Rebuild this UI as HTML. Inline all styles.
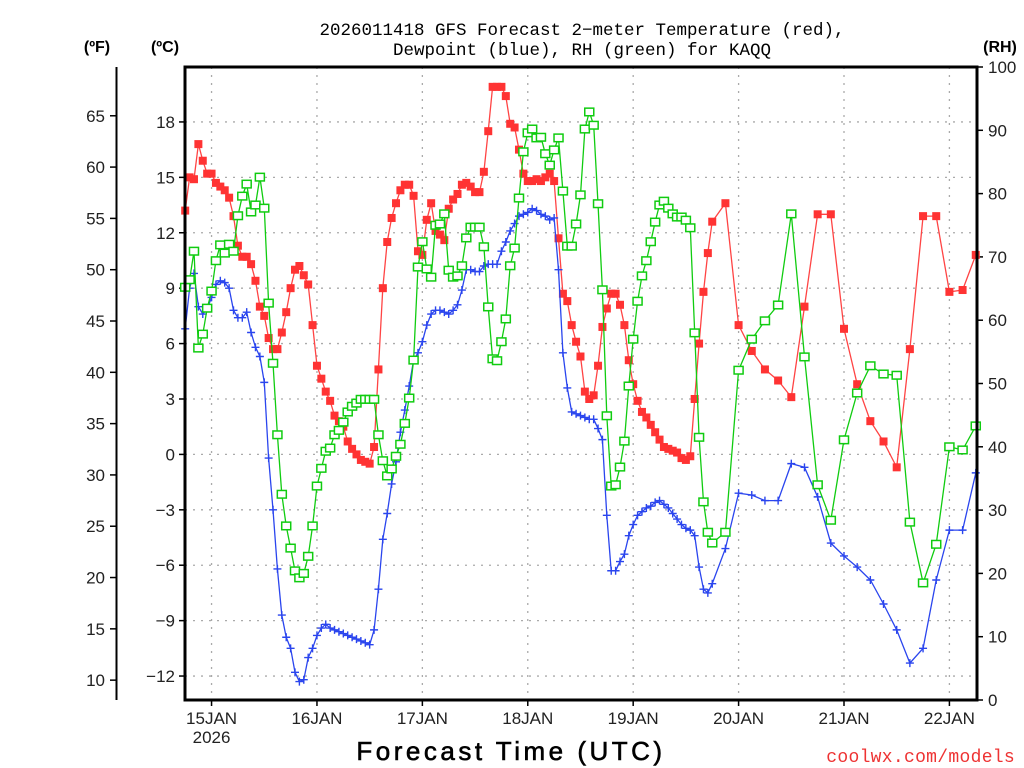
<!DOCTYPE html>
<html><head><meta charset="utf-8"><style>
html,body{margin:0;padding:0;background:#fff;}
svg{display:block;font-family:"Liberation Sans",sans-serif;}
</style></head><body>
<svg id="chart" width="1024" height="768" viewBox="0 0 1024 768" xmlns="http://www.w3.org/2000/svg">
<g font-size="17.5" fill="#000" text-anchor="middle" font-family="Liberation Mono, monospace">
<text x="582" y="35">2026011418 GFS Forecast 2−meter Temperature (red),</text>
<text x="582" y="55">Dewpoint (blue), RH (green) for KAQQ</text>
</g>
<text x="97" y="52" font-size="16" font-weight="bold" text-anchor="middle">(ºF)</text>
<text x="165" y="52" font-size="16" font-weight="bold" text-anchor="middle">(ºC)</text>
<text x="1000" y="52" font-size="16" font-weight="bold" text-anchor="middle">(RH)</text>
<g id="grid"></g>
<g id="axes"></g>
<g id="series"></g>
<rect x="185" y="67" width="792" height="633" fill="none" stroke="#000" stroke-width="3"/>
<text x="511" y="760" font-size="26" text-anchor="middle" letter-spacing="3.5" stroke="#000" stroke-width="0.6">Forecast Time (UTC)</text>
<text x="1015" y="762" font-size="18" fill="#e33" text-anchor="end" font-family="Liberation Mono, monospace" letter-spacing="0.3">coolwx.com/models</text>
</svg>
<script>
const hours = [0,1,2,3,4,5,6,7,8,9,10,11,12,13,14,15,16,17,18,19,20,21,22,23,24,25,26,27,28,29,30,31,32,33,34,35,36,37,38,39,40,41,42,43,44,45,46,47,48,49,50,51,52,53,54,55,56,57,58,59,60,61,62,63,64,65,66,67,68,69,70,71,72,73,74,75,76,77,78,79,80,81,82,83,84,85,86,87,88,89,90,91,92,93,94,95,96,97,98,99,100,101,102,103,104,105,106,107,108,109,110,111,112,113,114,115,116,117,118,119,120,123,126,129,132,135,138,141,144,147,150,153,156,159,162,165,168,171,174,177,180];
const tempC = [13.2,15.0,14.9,16.8,15.9,15.2,15.2,14.7,14.5,14.3,
13.9,12.9,11.3,10.7,10.7,10.3,9.4,8.0,7.5,6.3,
5.7,5.7,6.6,7.7,9.0,10.0,10.2,9.7,9.2,7.0,
4.8,4.1,3.4,2.9,2.1,1.8,1.5,0.7,0.3,0.0,
-0.3,-0.4,-0.5,0.4,4.6,9.0,11.5,12.8,13.6,14.3,
14.6,14.6,14.0,11.0,10.8,12.7,13.6,12.1,11.9,11.6,
13.3,13.8,14.1,14.6,14.7,14.5,14.2,14.2,15.3,17.5,
19.9,19.9,19.9,19.4,17.9,17.7,16.5,15.2,14.8,14.8,
14.9,14.8,15.0,15.2,14.8,11.7,8.7,8.3,7.0,6.1,
5.3,3.4,3.0,3.2,4.8,6.9,7.9,8.7,8.7,8.1,
7.0,5.1,3.8,2.9,2.3,2.0,1.6,1.2,0.8,0.4,
0.3,0.2,0.1,-0.2,-0.3,-0.1,3.0,6.0,8.8,10.9,
12.6,
13.6,7.0,5.6,4.6,4.0,3.1,8.0,13.0,13.0,6.8,3.8,1.8,0.7,-0.7,5.7,12.9,12.9,8.8,8.9,10.8];
const dewC = [6.8,9.0,9.8,8.0,7.6,7.9,8.5,9.2,9.4,9.3,
9.0,7.8,7.4,7.4,7.7,6.6,5.8,5.3,3.9,-0.2,
-3.0,-6.2,-8.7,-9.9,-10.5,-11.8,-12.3,-12.2,-11.0,-10.5,
-9.8,-9.4,-9.2,-9.4,-9.5,-9.6,-9.7,-9.8,-9.9,-10.0,
-10.1,-10.2,-10.3,-9.5,-7.3,-4.6,-3.2,-1.6,-0.4,1.2,
2.4,3.7,5.1,5.5,6.1,7.0,7.6,7.8,7.8,7.7,
7.6,7.8,8.1,8.9,10.0,10.0,9.9,9.9,10.2,10.3,
10.3,10.3,11.0,11.5,12.1,12.5,12.9,13.0,13.1,13.3,
13.2,13.0,12.9,12.7,12.8,10.0,5.5,3.6,2.3,2.2,
2.1,2.0,1.9,1.9,1.4,0.8,-3.3,-6.3,-6.3,-5.8,
-5.4,-4.4,-3.8,-3.3,-3.1,-2.9,-2.8,-2.6,-2.5,-2.7,
-2.9,-3.2,-3.5,-3.8,-4.0,-4.1,-4.4,-6.1,-7.3,-7.5,
-7.0,
-5.1,-2.1,-2.2,-2.5,-2.5,-0.5,-0.7,-2.3,-4.8,-5.5,-6.1,-6.8,-8.1,-9.5,-11.3,-10.5,-6.8,-4.1,-4.1,-1.0];
const rhPct = [65.2,66.4,70.9,55.6,57.8,61.9,64.6,69.4,71.9,70.6,
72.0,70.9,76.5,79.6,81.5,77.1,78.2,82.6,77.7,62.7,
53.2,41.9,32.5,27.5,24.0,20.4,19.3,20.0,22.7,27.5,
33.8,36.6,39.3,39.8,41.9,42.6,43.9,45.5,46.4,46.9,
47.5,47.5,47.5,47.5,41.9,37.8,35.4,36.5,38.5,40.4,
43.7,47.7,53.7,68.4,72.4,68.1,66.8,75.0,75.2,76.8,
67.9,66.8,67.0,68.6,73.0,74.7,74.7,74.7,71.6,62.1,
53.9,53.6,56.6,60.2,68.6,71.4,79.3,86.6,89.6,90.2,
88.8,88.9,86.3,84.5,86.9,88.8,80.4,71.7,71.7,75.2,
79.8,90.2,92.9,90.8,78.4,64.8,44.9,33.8,34.0,36.8,
40.9,49.6,57.0,63.0,67.0,69.4,72.4,75.5,78.2,78.8,
77.7,76.8,76.3,76.3,75.8,74.6,58.0,41.5,31.3,26.5,
24.8,
26.5,52.1,57.0,59.9,62.4,76.8,54.2,34.0,28.4,41.1,48.5,52.8,51.5,51.3,28.1,18.5,24.6,40.0,39.5,43.3];
const celsiusTicks = [18,15,12,9,6,3,0,-3,-6,-9,-12];
const fahrenheitTicks = [65,60,55,50,45,40,35,30,25,20,15,10];
const rhTicks = [100,90,80,70,60,50,40,30,20,10,0];
const dayHours = [6,30,54,78,102,126,150,174];
const dayLabels = ["15JAN","16JAN","17JAN","18JAN","19JAN","20JAN","21JAN","22JAN"];

const NS = "http://www.w3.org/2000/svg";
const xS = h => 185.2 + 4.392 * h;
const yC = c => 454.4 - 18.47 * c;
const yRH = r => 700 - 6.33 * r;
function mk(tag, attrs, parent, text){
  const e = document.createElementNS(NS, tag);
  for (const k in attrs) e.setAttribute(k, attrs[k]);
  if (text !== undefined) e.textContent = text;
  parent.appendChild(e);
  return e;
}
const grid = document.getElementById('grid');
const axes = document.getElementById('axes');
const series = document.getElementById('series');

celsiusTicks.forEach(c => {
  const y = yC(c);
  const g = mk('line', {x1:185, x2:977, y1:y, y2:y, stroke:'#aaa', 'stroke-width':1.3, 'stroke-dasharray':'2,6'}, grid);
  
  
  const t = mk('line', {x1:179, x2:185, y1:y, y2:y, stroke:'#000', 'stroke-width':1.5}, axes);
  
  
  const l = mk('text', {x:175, y:y+6, 'font-size':17, 'text-anchor':'end', fill:'#222'}, axes, c < 0 ? '−' + Math.abs(c) : String(c));
  
  
});
dayHours.forEach((h, i) => {
  const x = xS(h);
  const g = mk('line', {x1:x, x2:x, y1:67, y2:700, stroke:'#aaa', 'stroke-width':1.3, 'stroke-dasharray':'2,6'}, grid);
  
  
  const t = mk('line', {x1:x, x2:x, y1:700, y2:706, stroke:'#000', 'stroke-width':1.5}, axes);
  
  
  const l = mk('text', {x:x, y:724, 'font-size':17, 'text-anchor':'middle', fill:'#222'}, axes, dayLabels[i]);
  
  
});
const yr = mk('text', {x:xS(6), y:743, 'font-size':17, 'text-anchor':'middle', fill:'#222'}, axes, '2026');



const fl = mk('line', {x1:116.5, x2:116.5, y1:67, y2:700, stroke:'#000', 'stroke-width':2}, axes);


fahrenheitTicks.forEach(f => {
  const y = yC((f - 32) / 1.8);
  const t = mk('line', {x1:110, x2:116, y1:y, y2:y, stroke:'#000', 'stroke-width':1.5}, axes);
  
  
  const l = mk('text', {x:105, y:y+6, 'font-size':17, 'text-anchor':'end', fill:'#222'}, axes, String(f));
  
  
});
rhTicks.forEach(r => {
  const y = yRH(r);
  const t = mk('line', {x1:977, x2:983, y1:y, y2:y, stroke:'#000', 'stroke-width':1.5}, axes);
  
  
  const l = mk('text', {x:988, y:y+6, 'font-size':17, 'text-anchor':'start', fill:'#222'}, axes, String(r));
  
  
});

function drawLine(vals, yf, color, name){
  const pts = vals.map((v, i) => xS(hours[i]).toFixed(1) + ',' + yf(v).toFixed(1)).join(' ');
  const p = mk('polyline', {points:pts, fill:'none', stroke:color, 'stroke-width':1.3}, series);
  
  
}
drawLine(tempC, yC, '#f44', 'temperature-line');
tempC.forEach((v, i) => {
  const m = mk('rect', {x:xS(hours[i]) - 4, y:yC(v) - 4, width:8, height:8, fill:'#f33'}, series);
  
  
});
drawLine(dewC, yC, '#2a45ee', 'dewpoint-line');
dewC.forEach((v, i) => {
  const x = xS(hours[i]), y = yC(v);
  const m = mk('path', {d:`M${x-4},${y}H${x+4}M${x},${y-4}V${y+4}`, stroke:'#2a45ee', 'stroke-width':1.4, fill:'none'}, series);
  
  
});
drawLine(rhPct, yRH, '#10cc10', 'rh-line');
rhPct.forEach((v, i) => {
  const m = mk('rect', {x:xS(hours[i]) - 4.5, y:yRH(v) - 3.8, width:9, height:7.6, fill:'#fff', stroke:'#10cc10', 'stroke-width':1.5}, series);
  
  
});
</script>
</body></html>
